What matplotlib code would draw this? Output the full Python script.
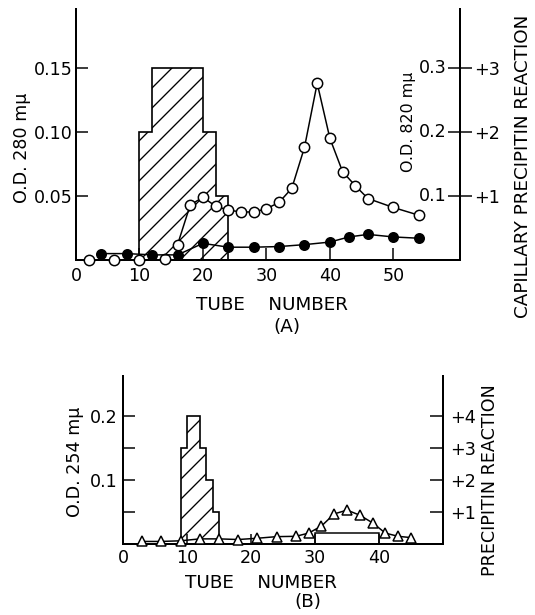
import matplotlib
matplotlib.use("Agg")
import matplotlib.pyplot as plt
import matplotlib.transforms as mtransforms

plt.rcParams['font.family'] = ['DejaVu Sans']
plt.rcParams['hatch.color'] = 'black'
plt.rcParams['hatch.linewidth'] = 0.8

# ---------------- Panel A data ----------------
tubes_open_A = [2, 6, 10, 14, 16, 18, 20, 22, 24, 26, 28, 30, 32, 34, 36, 38, 40, 42, 44, 46, 50, 54]
od280_open_A = [0.0, 0.0, 0.0, 0.001, 0.012, 0.043, 0.049, 0.042, 0.039, 0.0375, 0.0375, 0.040,
                0.045, 0.056, 0.088, 0.138, 0.095, 0.069, 0.058, 0.048, 0.041, 0.035]
tubes_filled_A = [4, 8, 12, 16, 20, 24, 28, 32, 36, 40, 43, 46, 50, 54]
od_filled_A = [0.005, 0.005, 0.004, 0.004, 0.013, 0.010, 0.010, 0.0105, 0.012, 0.014, 0.018, 0.020, 0.018, 0.017]
precip_edges_A = [10, 12, 20, 22, 24]
precip_values_A = [2, 3, 2, 1]
xticks_A = [0, 10, 20, 30, 40, 50]
yticks_A = [0.05, 0.10, 0.15]
ytick_labels_A = ['0.05', '0.10', '0.15']
od820_ticks = [0.1, 0.2, 0.3]
od820_labels = ['0.1', '0.2', '0.3']
precip_ticks_A = [1, 2, 3]
precip_labels_A = ['+1', '+2', '+3']

# ---------------- Panel B data ----------------
tubes_B = [3, 6, 9, 12, 15, 18, 21, 24, 27, 29, 31, 33, 35, 37, 39, 41, 43, 45]
od254_B = [0.004, 0.004, 0.005, 0.008, 0.008, 0.007, 0.009, 0.0115, 0.012, 0.017, 0.028, 0.047,
           0.053, 0.045, 0.033, 0.017, 0.012, 0.010]
precip_edges_B = [9, 10, 12, 13, 14, 15]
precip_values_B = [3, 4, 3, 2, 1]
weak_edges_B = [30, 40]
weak_values_B = [0.35]
xticks_B = [0, 10, 20, 30, 40]
yticks_B = [0.05, 0.1, 0.15, 0.2]
ytick_labels_B = ['', '0.1', '', '0.2']
precip_ticks_B = [1, 2, 3, 4]
precip_labels_B = ['+1', '+2', '+3', '+4']

W, H, DPI = 535, 615, 120
fig = plt.figure(figsize=(W / DPI, H / DPI), dpi=DPI)
fs_tick = 10.5
fs_lab = 10.5

# ================= Panel A =================
axA = fig.add_axes([76 / W, 1 - 260 / H, (460 - 76) / W, (260 - 9) / H])
ylimA = 0.196
axA.set_xlim(0, 60.5)
axA.set_ylim(0, ylimA)
apA = axA.twinx()
apA.set_ylim(0, ylimA * 20)
axA.set_zorder(apA.get_zorder() + 1)
axA.patch.set_visible(False)

apA.stairs(precip_values_A, precip_edges_A, baseline=0, fill=True, facecolor='none',
           edgecolor='black', hatch='//', linewidth=1.0)

axA.plot(tubes_open_A[4:], od280_open_A[4:], '-', color='black', lw=0.9, zorder=3)
axA.plot(tubes_open_A, od280_open_A, 'o', mfc='white', mec='black', mew=0.9, ms=6.2,
         linestyle='none', zorder=4, clip_on=False)
axA.plot(tubes_filled_A, od_filled_A, '-o', color='black', mfc='black', mec='black', lw=0.9,
         ms=5.6, zorder=4, clip_on=False)

for s in ['top', 'right']:
    axA.spines[s].set_visible(False)
for s in ['top', 'left', 'bottom']:
    apA.spines[s].set_visible(False)
for s in ['left', 'bottom']:
    axA.spines[s].set_linewidth(1.2)
apA.spines['right'].set_linewidth(1.2)

axA.set_xticks(xticks_A)
axA.set_xticklabels([str(v) for v in xticks_A], fontsize=fs_tick)
axA.tick_params(axis='x', direction='in', length=7, width=0.9, pad=4)
axA.set_yticks(yticks_A)
axA.set_yticklabels(ytick_labels_A, fontsize=fs_tick)
axA.tick_params(axis='y', direction='in', length=7, width=0.9, pad=2)

apA.set_yticks(precip_ticks_A)
apA.set_yticklabels(precip_labels_A, fontsize=fs_tick)
apA.tick_params(axis='y', direction='inout', length=14, width=0.9, pad=1.5)

# O.D. 820 scale labels just left of right spine
tr = mtransforms.blended_transform_factory(axA.transAxes, axA.transData) + \
    mtransforms.ScaledTranslation(-13 / DPI, 0, fig.dpi_scale_trans)
for v, lab in zip(od820_ticks, od820_labels):
    axA.text(1, v / 2, lab, transform=tr, ha='right', va='center', fontsize=fs_tick)

fig.text(22 / W, 1 - 148 / H, 'O.D. 280 mμ', rotation=90, ha='center', va='center', fontsize=fs_tick)
fig.text(408 / W, 1 - 122 / H, 'O.D. 820 mμ', rotation=90, ha='center', va='center', fontsize=9.5)
fig.text(523 / W, 1 - 166 / H, 'CAPILLARY PRECIPITIN REACTION', rotation=90, ha='center',
         va='center', fontsize=11)
fig.text(272 / W, 1 - 305 / H, 'TUBE    NUMBER', ha='center', va='center', fontsize=11)
fig.text(287 / W, 1 - 327 / H, '(A)', ha='center', va='center', fontsize=11)

# ================= Panel B =================
axB = fig.add_axes([123 / W, 1 - 544 / H, (443 - 123) / W, (544 - 376) / H])
ylimB = 0.2625
axB.set_xlim(0, 50)
axB.set_ylim(0, ylimB)
apB = axB.twinx()
apB.set_ylim(0, ylimB * 20)
axB.set_zorder(apB.get_zorder() + 1)
axB.patch.set_visible(False)

apB.stairs(precip_values_B, precip_edges_B, baseline=0, fill=True, facecolor='none',
           edgecolor='black', hatch='//', linewidth=1.0)
apB.stairs(weak_values_B, weak_edges_B, baseline=0, fill=False, color='black', linewidth=0.9)

axB.plot(tubes_B, od254_B, '-^', color='black', mfc='white', mec='black', mew=0.9, lw=0.9,
         ms=6.3, zorder=4, clip_on=False)

for s in ['top', 'right']:
    axB.spines[s].set_visible(False)
for s in ['top', 'left', 'bottom']:
    apB.spines[s].set_visible(False)
for s in ['left', 'bottom']:
    axB.spines[s].set_linewidth(1.2)
apB.spines['right'].set_linewidth(1.2)

axB.set_xticks(xticks_B)
axB.set_xticklabels([str(v) for v in xticks_B], fontsize=fs_tick)
axB.tick_params(axis='x', direction='in', length=6, width=0.9, pad=3)
axB.set_yticks(yticks_B)
axB.set_yticklabels(ytick_labels_B, fontsize=fs_tick)
axB.tick_params(axis='y', direction='in', length=7, width=0.9, pad=3)

apB.set_yticks(precip_ticks_B)
apB.set_yticklabels(precip_labels_B, fontsize=fs_tick)
apB.tick_params(axis='y', direction='in', length=8, width=0.9, pad=4)

fig.text(75 / W, 1 - 462 / H, 'O.D. 254 mμ', rotation=90, ha='center', va='center', fontsize=fs_tick)
fig.text(490 / W, 1 - 480 / H, 'PRECIPITIN REACTION', rotation=90, ha='center', va='center',
         fontsize=fs_lab)
fig.text(261 / W, 1 - 583 / H, 'TUBE    NUMBER', ha='center', va='center', fontsize=11)
fig.text(308 / W, 1 - 602 / H, '(B)', ha='center', va='center', fontsize=11)

fig.savefig('out.png', dpi=DPI)
